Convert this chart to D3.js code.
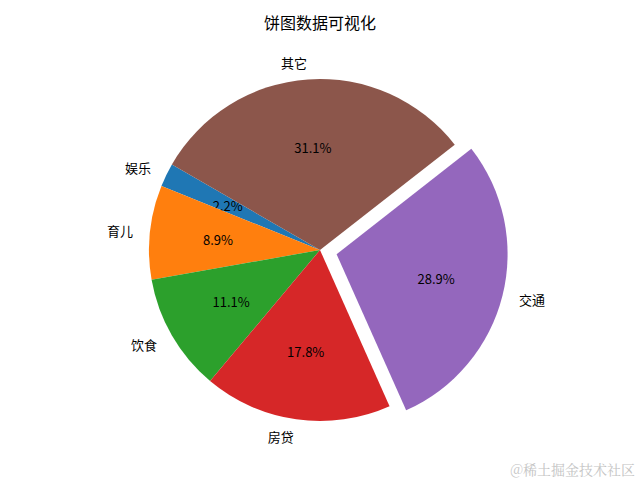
<!DOCTYPE html>
<html><head><meta charset="utf-8">
<script src="https://cdn.jsdelivr.net/npm/d3@7"></script>
<style>body{margin:0;background:#fff}</style>
</head><body>
<svg id="c" width="640" height="480"></svg>
<script>
const categories = ["娱乐", "育儿", "饮食", "房贷", "交通", "其它"];
const values = [500, 2000, 2500, 4000, 6500, 7000];
const explode = [0, 0, 0, 0, 0.1, 0];
const colors = ["#1f77b4", "#ff7f0e", "#2ca02c", "#d62728", "#9467bd", "#8c564b"];
const title = "饼图数据可视化";

const svg = d3.select("#c");
const cx = 320, cy = 250, R = 171;
const font = "'Noto Sans CJK SC', sans-serif";
const total = d3.sum(values);
const startDeg = 150; // matplotlib startangle, counterclockwise
const toRad = d => d * Math.PI / 180;
const pie = d3.pie().sort(null).value(d => d)
  .startAngle(toRad(90 - startDeg)).endAngle(toRad(90 - startDeg - 360));
const arcs = pie(values);
const arc = d3.arc().innerRadius(0).outerRadius(R);
const g = svg.append("g").attr("transform", `translate(${cx},${cy})`);

arcs.forEach((a, i) => {
  const mid = (a.startAngle + a.endAngle) / 2;
  const ux = Math.sin(mid), uy = -Math.cos(mid);
  const ox = ux * explode[i] * R, oy = uy * explode[i] * R;
  const sg = g.append("g").attr("transform", `translate(${ox},${oy})`);
  sg.append("path").attr("d", arc(a)).attr("fill", colors[i]);
  sg.append("text").attr("x", ux * R * 1.1).attr("y", uy * R * 1.1)
    .attr("text-anchor", ux < 0 ? "end" : "start")
    .attr("dominant-baseline", "central")
    .attr("font-family", font).attr("font-size", 13).attr("fill", "#000")
    .text(categories[i]);
  sg.append("text").attr("x", ux * R * 0.6).attr("y", uy * R * 0.6)
    .attr("text-anchor", "middle").attr("dominant-baseline", "central")
    .attr("font-family", font).attr("font-size", 13).attr("fill", "#000")
    .text((values[i] / total * 100).toFixed(1) + "%");
});

svg.append("text").attr("x", 320).attr("y", 22).attr("text-anchor", "middle")
  .attr("dominant-baseline", "central").attr("font-family", font)
  .attr("font-size", 16).attr("fill", "#000").text(title);

svg.append("text").attr("x", 635).attr("y", 469).attr("text-anchor", "end")
  .attr("dominant-baseline", "central").attr("font-family", "'Noto Serif CJK SC', 'Noto Sans CJK SC', serif")
  .attr("font-size", 14).attr("fill", "#c4c4c4").text("@稀土掘金技术社区");
</script>
</body></html>
